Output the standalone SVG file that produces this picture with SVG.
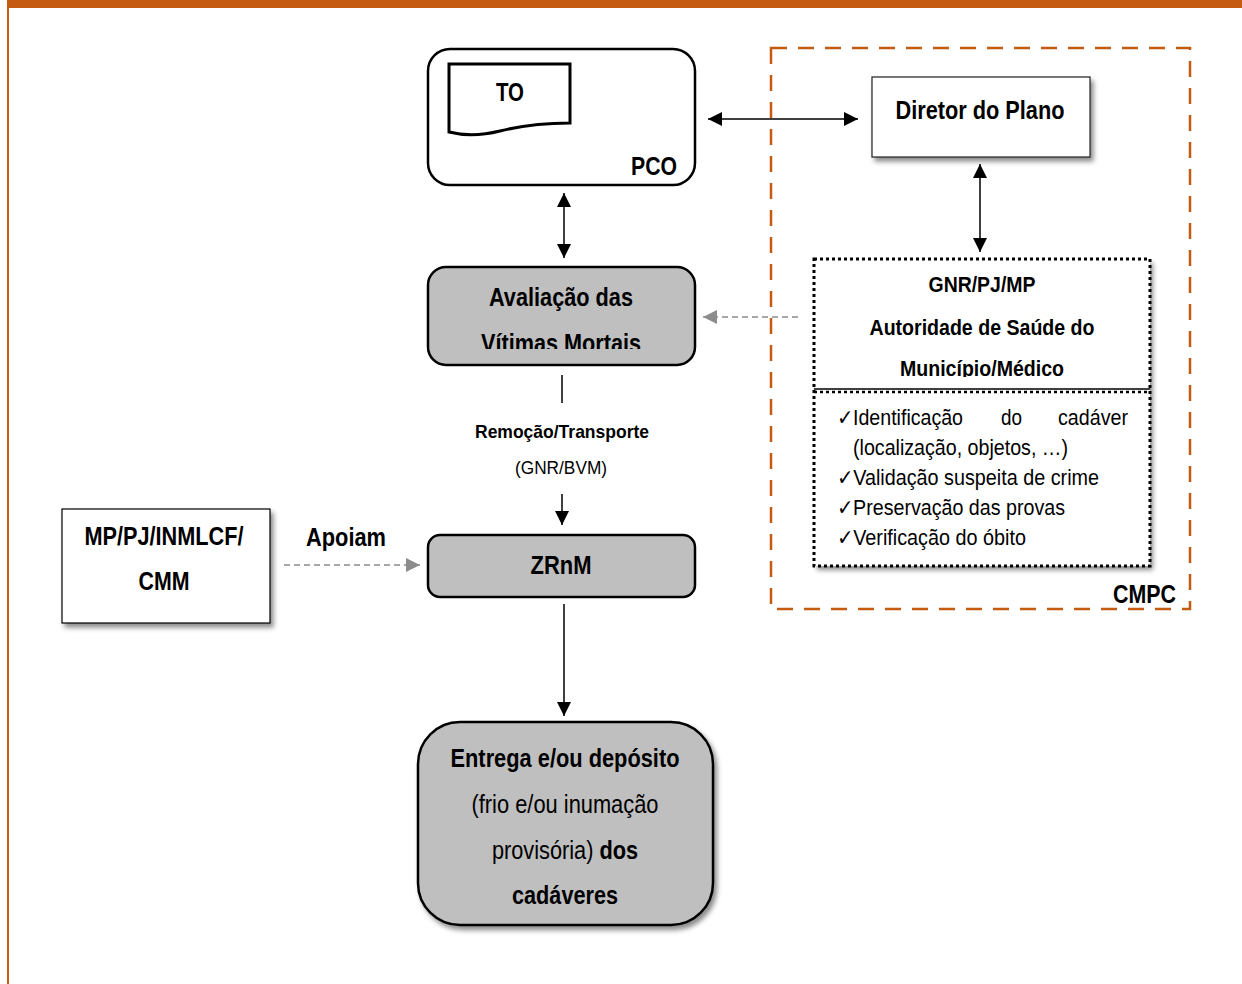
<svg xmlns="http://www.w3.org/2000/svg" width="1242" height="984" viewBox="0 0 1242 984">
<style>
text{font-family:"Liberation Sans",Arial,sans-serif;fill:#000}
.b{font-weight:bold}
.c{text-anchor:middle}
.f24{font-size:25px}
.f21{font-size:22px}
.f18{font-size:19px}
.ln{stroke:#000;stroke-width:1.5;fill:none}
.gd{stroke:#8c8c8c;stroke-width:1.5;fill:none;stroke-dasharray:6,4}
.gray{fill:#bfbfbf;stroke:#000;stroke-width:2.5}
</style>
<defs>
<marker id="ag" viewBox="0 0 10 10" refX="10" refY="5" markerWidth="14" markerHeight="14" markerUnits="userSpaceOnUse" orient="auto-start-reverse"><path d="M0,0L10,5L0,10z" fill="#8c8c8c"/></marker>
<marker id="ahb" viewBox="0 0 10 10" refX="10" refY="5" markerWidth="14" markerHeight="14" markerUnits="userSpaceOnUse" orient="auto-start-reverse"><path d="M0,0L10,5L0,10z" fill="#000"/></marker>
<filter id="sh" x="-10%" y="-10%" width="125%" height="130%"><feDropShadow dx="3" dy="4" stdDeviation="2.5" flood-color="#000" flood-opacity="0.45"/></filter>
<clipPath id="clipAv"><rect x="428" y="267" width="267" height="82"/></clipPath>
<clipPath id="clipMun"><rect x="814" y="259" width="336" height="118"/></clipPath>
</defs>
<rect width="1242" height="984" fill="#fff"/>
<rect x="7" y="0" width="1235" height="8" fill="#c55a11"/>
<rect x="7" y="0" width="2" height="984" fill="#c55a11"/>

<g id="cmpc">
<rect x="771" y="48" width="419" height="561" fill="none" stroke="#c55a11" stroke-width="2.5" stroke-dasharray="16,11"/>
<text class="b f24" x="1176" y="603" text-anchor="end" textLength="63" lengthAdjust="spacingAndGlyphs">CMPC</text>
</g>

<g id="connectors">
<line class="ln" x1="708" y1="119" x2="858" y2="119" marker-start="url(#ahb)" marker-end="url(#ahb)"/>
<line class="ln" x1="980" y1="164" x2="980" y2="252" marker-start="url(#ahb)" marker-end="url(#ahb)"/>
<line class="ln" x1="564" y1="193" x2="564" y2="258" marker-start="url(#ahb)" marker-end="url(#ahb)"/>
<line class="gd" x1="798" y1="317" x2="703" y2="317" marker-end="url(#ag)"/>
<line class="ln" x1="562" y1="375" x2="562" y2="403"/>
<line class="ln" x1="562" y1="494" x2="562" y2="525" marker-end="url(#ahb)"/>
<line class="gd" x1="284" y1="565" x2="420" y2="565" marker-end="url(#ag)"/>
<line class="ln" x1="564" y1="604" x2="564" y2="716" marker-end="url(#ahb)"/>
<text class="b f18 c" x="562" y="438" textLength="174" lengthAdjust="spacingAndGlyphs">Remoção/Transporte</text>
<text class="f18 c" x="561" y="474" textLength="92" lengthAdjust="spacingAndGlyphs">(GNR/BVM)</text>
<text class="b f24 c" x="346" y="546" textLength="80" lengthAdjust="spacingAndGlyphs">Apoiam</text>
</g>

<g id="pco">
<rect x="428" y="49" width="267" height="136" rx="22" fill="#fff" stroke="#000" stroke-width="2.5"/>
<path d="M449,64H570V123C540,123 520,126 500,131C480,136 465,136 449,132Z" fill="#fff" stroke="#000" stroke-width="3"/>
<text class="b f24 c" x="510" y="101" textLength="28" lengthAdjust="spacingAndGlyphs">TO</text>
<text class="b f24" x="677" y="175" text-anchor="end" textLength="46" lengthAdjust="spacingAndGlyphs">PCO</text>
</g>

<g id="diretor">
<rect x="872" y="77" width="218" height="80" fill="#fff" stroke="#222" stroke-width="1.2" filter="url(#sh)"/>
<text class="b f24 c" x="980" y="119" textLength="169" lengthAdjust="spacingAndGlyphs">Diretor do Plano</text>
</g>

<g id="gnr">
<rect x="814" y="259" width="336" height="307" fill="#fff" filter="url(#sh)"/>
<rect x="814" y="259" width="336" height="307" fill="none" stroke="#000" stroke-width="3" stroke-dasharray="3,3"/>
<line x1="814" y1="389" x2="1150" y2="389" stroke="#000" stroke-width="1.5"/>
<line x1="814" y1="392" x2="1150" y2="392" stroke="#000" stroke-width="2.5" stroke-dasharray="3,3"/>
<text class="b f21 c" x="982" y="292" textLength="107" lengthAdjust="spacingAndGlyphs">GNR/PJ/MP</text>
<text class="b f21 c" x="982" y="335" textLength="225" lengthAdjust="spacingAndGlyphs">Autoridade de Saúde do</text>
<g clip-path="url(#clipMun)"><text class="b f21 c" x="982" y="376" textLength="164" lengthAdjust="spacingAndGlyphs">Município/Médico</text></g>
<text class="f21" x="837" y="425" textLength="126" lengthAdjust="spacingAndGlyphs">✓Identificação</text>
<text class="f21 c" x="1011.5" y="425" textLength="21" lengthAdjust="spacingAndGlyphs">do</text>
<text class="f21" x="1128" y="425" text-anchor="end" textLength="70" lengthAdjust="spacingAndGlyphs">cadáver</text>
<text class="f21" x="853" y="455" textLength="215" lengthAdjust="spacingAndGlyphs">(localização, objetos, …)</text>
<text class="f21" x="837" y="485" textLength="262" lengthAdjust="spacingAndGlyphs">✓Validação suspeita de crime</text>
<text class="f21" x="837" y="515" textLength="228" lengthAdjust="spacingAndGlyphs">✓Preservação das provas</text>
<text class="f21" x="837" y="545" textLength="189" lengthAdjust="spacingAndGlyphs">✓Verificação do óbito</text>
</g>

<g id="avaliacao">
<rect class="gray" x="428" y="267" width="267" height="98" rx="18"/>
<text class="b f24 c" x="561" y="306" textLength="144" lengthAdjust="spacingAndGlyphs">Avaliação das</text>
<g clip-path="url(#clipAv)"><text class="b f24 c" x="561" y="352" textLength="160" lengthAdjust="spacingAndGlyphs">Vítimas Mortais</text></g>
</g>

<g id="zrnm">
<rect class="gray" x="428" y="535" width="267" height="62" rx="12"/>
<text class="b f24 c" x="561" y="574" textLength="61" lengthAdjust="spacingAndGlyphs">ZRnM</text>
</g>

<g id="mp">
<rect x="62" y="509" width="208" height="114" fill="#fff" stroke="#000" stroke-width="1.2" filter="url(#sh)"/>
<text class="b f24 c" x="164" y="545" textLength="159" lengthAdjust="spacingAndGlyphs">MP/PJ/INMLCF/</text>
<text class="b f24 c" x="164" y="590" textLength="51" lengthAdjust="spacingAndGlyphs">CMM</text>
</g>

<g id="entrega">
<rect class="gray" x="418" y="722" width="295" height="203" rx="42" filter="url(#sh)"/>
<text class="b f24 c" x="565" y="767" textLength="229" lengthAdjust="spacingAndGlyphs">Entrega e/ou depósito</text>
<text class="f24 c" x="565" y="813" textLength="187" lengthAdjust="spacingAndGlyphs">(frio e/ou inumação</text>
<text class="f24 c" transform="translate(565,859) scale(0.87,1)" x="0" y="0">provisória) <tspan class="b">dos</tspan></text>
<text class="b f24 c" x="565" y="904" textLength="106" lengthAdjust="spacingAndGlyphs">cadáveres</text>
</g>
</svg>
